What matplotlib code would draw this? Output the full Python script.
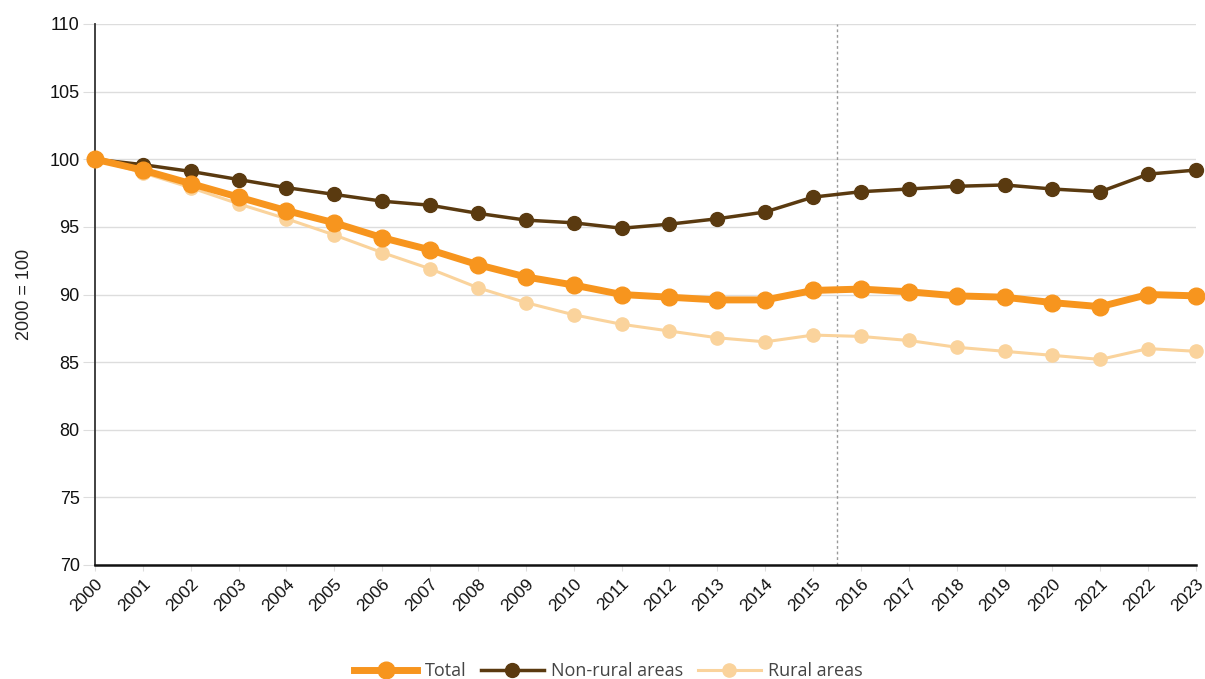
import matplotlib
matplotlib.use("Agg")
from matplotlib import pyplot as plt

# Index values (2000 = 100).
years = list(range(2000, 2024))
total = [100.0, 99.2, 98.2, 97.2, 96.2, 95.3, 94.2, 93.3, 92.2, 91.3, 90.7, 90.0,
         89.8, 89.6, 89.6, 90.3, 90.4, 90.2, 89.9, 89.8, 89.4, 89.1, 90.0, 89.9]
non_rural = [100.0, 99.6, 99.1, 98.5, 97.9, 97.4, 96.9, 96.6, 96.0, 95.5, 95.3, 94.9,
             95.2, 95.6, 96.1, 97.2, 97.6, 97.8, 98.0, 98.1, 97.8, 97.6, 98.9, 99.2]
rural = [100.0, 99.0, 97.9, 96.7, 95.6, 94.4, 93.1, 91.9, 90.5, 89.4, 88.5, 87.8,
         87.3, 86.8, 86.5, 87.0, 86.9, 86.6, 86.1, 85.8, 85.5, 85.2, 86.0, 85.8]
y_ticks = [70, 75, 80, 85, 90, 95, 100, 105, 110]
break_year = 2015.5

tick_font = {"family": "Liberation Sans", "color": "#111111"}

fig = plt.figure(figsize=(12.05, 6.79), dpi=100)
ax = fig.add_axes([95 / 1205, 114 / 679, 1101 / 1205, 541 / 679])

# Lines, drawn back to front so Total sits on top.
ax.plot(years, rural, color="#fad39c", linewidth=2.2, marker="o", markersize=9.5,
        label="Rural areas", zorder=3, clip_on=False)
ax.plot(years, non_rural, color="#5a3a10", linewidth=2.5, marker="o", markersize=10,
        label="Non-rural areas", zorder=4, clip_on=False)
ax.plot(years, total, color="#f7951e", linewidth=5, marker="o", markersize=12,
        label="Total", zorder=5, clip_on=False)

# Dotted vertical separator.
ax.axvline(break_year, color="#999999", linestyle=(0, (2, 2)), linewidth=1, zorder=2)

ax.set_xlim(2000, 2023)
ax.set_ylim(70, 110)
ax.set_yticks(y_ticks)
ax.set_xticks(years)
ax.set_xticklabels([str(y) for y in years], rotation=45, ha="right", va="top",
                   rotation_mode="anchor", fontsize=12.5, **tick_font)
ax.set_yticklabels([str(v) for v in y_ticks], fontsize=13, **tick_font)
ax.tick_params(axis="y", length=9, color="#dddddd", pad=2)
ax.tick_params(axis="x", length=4, color="#dddddd", pad=4)

ax.grid(axis="y", color="#dddddd", linewidth=1)
ax.set_axisbelow(True)
for side in ["top", "right"]:
    ax.spines[side].set_visible(False)
ax.spines["left"].set_color("#333333")
ax.spines["bottom"].set_color("#111111")
ax.spines["left"].set_linewidth(1.3)
ax.spines["bottom"].set_linewidth(1.8)

ax.set_ylabel("2000 = 100", fontsize=13, family="Liberation Sans", color="#222222", labelpad=12)

# Legend at the bottom, Total first.
handles, labels = ax.get_legend_handles_labels()
order = [2, 1, 0]
fig.legend([handles[i] for i in order], [labels[i] for i in order], loc="center",
           bbox_to_anchor=(0.505, 8 / 679), ncol=3, frameon=False, handlelength=3.5,
           columnspacing=0.8, handletextpad=0.4, prop={"family": "Open Sans", "size": 13},
           labelcolor="#444444")

fig.savefig("out.png", dpi=100)
